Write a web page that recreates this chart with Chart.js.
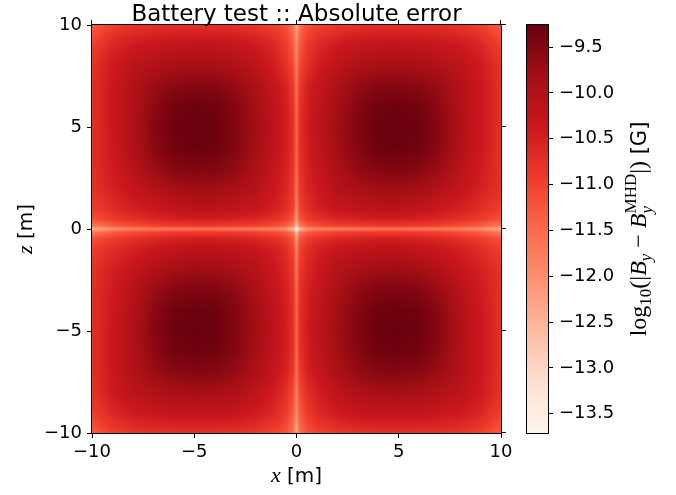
<!DOCTYPE html>
<html><head><meta charset="utf-8">
<script src="https://cdn.jsdelivr.net/npm/chart.js@4.4.1/dist/chart.umd.min.js"></script>
<style>
html,body{margin:0;padding:0;background:#fff;}
#wrap{position:relative;width:676px;height:495px;overflow:hidden;}
#wrap canvas{position:absolute;left:0;top:0;}
</style></head><body>
<div id="wrap"><canvas id="main" width="676" height="495"></canvas><canvas id="cbar" width="676" height="495"></canvas></div>
<script>
// ---- data ----
const xNodes = [-10,-9,-8,-7,-6,-5,-4,-3,-2,-1,-0.5,-0.15,0,0.15,0.5,1,2,3,4,5,6,7,8,9,10];
const zNodes = [10,9,8,7,6,5,4,3,2,1,0.5,0.15,0,-0.15,-0.5,-1,-2,-3,-4,-5,-6,-7,-8,-9,-10];
// log10 |By - By_MHD| at (zNodes[row], xNodes[col])
const errorLog10 = [
[-11.3,-10.95,-10.8,-10.75,-10.75,-10.75,-10.75,-10.78,-10.85,-11.0,-11.2,-11.6,-12.4,-11.6,-11.2,-11.0,-10.85,-10.78,-10.75,-10.75,-10.75,-10.75,-10.8,-10.95,-11.3],
[-10.95,-10.6,-10.4,-10.3,-10.22,-10.2,-10.2,-10.25,-10.4,-10.65,-10.9,-11.3,-11.95,-11.3,-10.9,-10.65,-10.4,-10.25,-10.2,-10.2,-10.22,-10.3,-10.4,-10.6,-10.95],
[-10.8,-10.4,-10.15,-9.98,-9.87,-9.83,-9.85,-9.95,-10.15,-10.5,-10.75,-11.1,-11.75,-11.1,-10.75,-10.5,-10.15,-9.95,-9.85,-9.83,-9.87,-9.98,-10.15,-10.4,-10.8],
[-10.75,-10.35,-10.0,-9.72,-9.57,-9.52,-9.53,-9.66,-9.92,-10.3,-10.55,-10.9,-11.6,-10.9,-10.55,-10.3,-9.92,-9.66,-9.53,-9.52,-9.57,-9.72,-10.0,-10.35,-10.75],
[-10.75,-10.35,-9.97,-9.6,-9.38,-9.32,-9.35,-9.52,-9.82,-10.22,-10.48,-10.8,-11.5,-10.8,-10.48,-10.22,-9.82,-9.52,-9.35,-9.32,-9.38,-9.6,-9.97,-10.35,-10.75],
[-10.75,-10.35,-9.95,-9.55,-9.33,-9.27,-9.3,-9.48,-9.78,-10.2,-10.45,-10.75,-11.45,-10.75,-10.45,-10.2,-9.78,-9.48,-9.3,-9.27,-9.33,-9.55,-9.95,-10.35,-10.75],
[-10.75,-10.37,-9.98,-9.58,-9.36,-9.3,-9.33,-9.5,-9.8,-10.22,-10.47,-10.77,-11.45,-10.77,-10.47,-10.22,-9.8,-9.5,-9.33,-9.3,-9.36,-9.58,-9.98,-10.37,-10.75],
[-10.75,-10.42,-10.08,-9.72,-9.52,-9.46,-9.48,-9.62,-9.9,-10.28,-10.52,-10.82,-11.5,-10.82,-10.52,-10.28,-9.9,-9.62,-9.48,-9.46,-9.52,-9.72,-10.08,-10.42,-10.75],
[-10.78,-10.5,-10.25,-10.0,-9.82,-9.75,-9.77,-9.87,-10.05,-10.38,-10.6,-10.9,-11.6,-10.9,-10.6,-10.38,-10.05,-9.87,-9.77,-9.75,-9.82,-10.0,-10.25,-10.5,-10.78],
[-10.95,-10.7,-10.5,-10.35,-10.2,-10.12,-10.12,-10.18,-10.28,-10.5,-10.72,-11.0,-11.8,-11.0,-10.72,-10.5,-10.28,-10.18,-10.12,-10.12,-10.2,-10.35,-10.5,-10.7,-10.95],
[-11.15,-10.9,-10.72,-10.6,-10.5,-10.45,-10.45,-10.5,-10.58,-10.75,-10.92,-11.25,-12.1,-11.25,-10.92,-10.75,-10.58,-10.5,-10.45,-10.45,-10.5,-10.6,-10.72,-10.9,-11.15],
[-11.7,-11.35,-11.15,-11.02,-10.95,-10.92,-10.92,-10.95,-11.0,-11.15,-11.35,-11.7,-12.7,-11.7,-11.35,-11.15,-11.0,-10.95,-10.92,-10.92,-10.95,-11.02,-11.15,-11.35,-11.7],
[-12.5,-12.0,-11.8,-11.7,-11.65,-11.65,-11.65,-11.7,-11.75,-11.85,-12.1,-12.7,-13.71,-12.7,-12.1,-11.85,-11.75,-11.7,-11.65,-11.65,-11.65,-11.7,-11.8,-12.0,-12.5],
[-11.7,-11.35,-11.15,-11.02,-10.95,-10.92,-10.92,-10.95,-11.0,-11.15,-11.35,-11.7,-12.7,-11.7,-11.35,-11.15,-11.0,-10.95,-10.92,-10.92,-10.95,-11.02,-11.15,-11.35,-11.7],
[-11.15,-10.9,-10.72,-10.6,-10.5,-10.45,-10.45,-10.5,-10.58,-10.75,-10.92,-11.25,-12.1,-11.25,-10.92,-10.75,-10.58,-10.5,-10.45,-10.45,-10.5,-10.6,-10.72,-10.9,-11.15],
[-10.95,-10.7,-10.5,-10.35,-10.2,-10.12,-10.12,-10.18,-10.28,-10.5,-10.72,-11.0,-11.8,-11.0,-10.72,-10.5,-10.28,-10.18,-10.12,-10.12,-10.2,-10.35,-10.5,-10.7,-10.95],
[-10.78,-10.5,-10.25,-10.0,-9.82,-9.75,-9.77,-9.87,-10.05,-10.38,-10.6,-10.9,-11.6,-10.9,-10.6,-10.38,-10.05,-9.87,-9.77,-9.75,-9.82,-10.0,-10.25,-10.5,-10.78],
[-10.75,-10.42,-10.08,-9.72,-9.52,-9.46,-9.48,-9.62,-9.9,-10.28,-10.52,-10.82,-11.5,-10.82,-10.52,-10.28,-9.9,-9.62,-9.48,-9.46,-9.52,-9.72,-10.08,-10.42,-10.75],
[-10.75,-10.37,-9.98,-9.58,-9.36,-9.3,-9.33,-9.5,-9.8,-10.22,-10.47,-10.77,-11.45,-10.77,-10.47,-10.22,-9.8,-9.5,-9.33,-9.3,-9.36,-9.58,-9.98,-10.37,-10.75],
[-10.75,-10.35,-9.95,-9.55,-9.33,-9.27,-9.3,-9.48,-9.78,-10.2,-10.45,-10.75,-11.45,-10.75,-10.45,-10.2,-9.78,-9.48,-9.3,-9.27,-9.33,-9.55,-9.95,-10.35,-10.75],
[-10.75,-10.35,-9.97,-9.6,-9.38,-9.32,-9.35,-9.52,-9.82,-10.22,-10.48,-10.8,-11.5,-10.8,-10.48,-10.22,-9.82,-9.52,-9.35,-9.32,-9.38,-9.6,-9.97,-10.35,-10.75],
[-10.75,-10.35,-10.0,-9.72,-9.57,-9.52,-9.53,-9.66,-9.92,-10.3,-10.55,-10.9,-11.6,-10.9,-10.55,-10.3,-9.92,-9.66,-9.53,-9.52,-9.57,-9.72,-10.0,-10.35,-10.75],
[-10.8,-10.4,-10.15,-9.98,-9.87,-9.83,-9.85,-9.95,-10.15,-10.5,-10.75,-11.1,-11.75,-11.1,-10.75,-10.5,-10.15,-9.95,-9.85,-9.83,-9.87,-9.98,-10.15,-10.4,-10.8],
[-10.95,-10.6,-10.4,-10.3,-10.22,-10.2,-10.2,-10.25,-10.4,-10.65,-10.9,-11.3,-11.95,-11.3,-10.9,-10.65,-10.4,-10.25,-10.2,-10.2,-10.22,-10.3,-10.4,-10.6,-10.95],
[-11.3,-10.95,-10.8,-10.75,-10.75,-10.75,-10.75,-10.78,-10.85,-11.0,-11.2,-11.6,-12.4,-11.6,-11.2,-11.0,-10.85,-10.78,-10.75,-10.75,-10.75,-10.75,-10.8,-10.95,-11.3]
];
const axisTicks = [-10,-5,0,5,10];
const colorbarTicks = [-13.5,-13.0,-12.5,-12.0,-11.5,-11.0,-10.5,-10.0,-9.5];
const colorMin = -13.71, colorMax = -9.26;
const redsStops = ['#fff5f0','#fee0d2','#fcbba1','#fc9272','#fb6a4a','#ef3b2c','#cb181d','#a50f15','#67000d'];
const titleText = 'Battery test :: Absolute error';

// ---- helpers ----
const REDS = redsStops.map(h=>[parseInt(h.slice(1,3),16),parseInt(h.slice(3,5),16),parseInt(h.slice(5,7),16)]);
function cmap(v){
  let t=(v-colorMin)/(colorMax-colorMin); t=Math.max(0,Math.min(1,t));
  const p=t*(REDS.length-1); const i=Math.min(Math.floor(p),REDS.length-2); const f=p-i;
  const a=REDS[i], b=REDS[i+1];
  return [a[0]+(b[0]-a[0])*f, a[1]+(b[1]-a[1])*f, a[2]+(b[2]-a[2])*f];
}
function locate(nodes, v){
  for(let k=0;k<nodes.length-1;k++){
    const a=nodes[k], b=nodes[k+1];
    if(v>=Math.min(a,b) && v<=Math.max(a,b)) return [k,(v-a)/(b-a)];
  }
  const asc = nodes[1]>nodes[0];
  const first = asc ? v<nodes[0] : v>nodes[0];
  return first ? [0,0] : [nodes.length-2,1];
}
const minus = s => String(s).replace('-','\u2212');
function drawRuns(ctx, runs, cx, cy, angle){
  ctx.save(); ctx.translate(cx,cy); ctx.rotate(angle);
  ctx.textBaseline='alphabetic'; ctx.textAlign='left'; ctx.fillStyle='#000';
  let total=0;
  runs.forEach(r=>{ctx.font=r.font; r.w=ctx.measureText(r.t).width; if(!r.stack) total+=r.w;});
  let xp=-total/2;
  runs.forEach(r=>{ctx.font=r.font; ctx.fillText(r.t, xp, r.dy||0); if(!r.stack) xp+=r.w;});
  ctx.restore();
}

// ---- main heatmap chart ----
const heatmapPlugin = {
  id:'heatmap',
  beforeDraw(chart){
    const {ctx, chartArea, scales:{x,y}} = chart;
    const L=Math.round(chartArea.left), T=Math.round(chartArea.top);
    const W=Math.round(chartArea.right)-L, H=Math.round(chartArea.bottom)-T;
    const off=document.createElement('canvas'); off.width=W; off.height=H;
    const octx=off.getContext('2d'); const img=octx.createImageData(W,H);
    const cols=[], rows=[];
    for(let c=0;c<W;c++) cols.push(locate(xNodes, x.getValueForPixel(L+c+0.5)));
    for(let r=0;r<H;r++) rows.push(locate(zNodes, y.getValueForPixel(T+r+0.5)));
    const M=errorLog10;
    for(let r=0;r<H;r++){
      const [j,u]=rows[r];
      for(let c=0;c<W;c++){
        const [i,t]=cols[c];
        const v=(1-u)*((1-t)*M[j][i]+t*M[j][i+1])+u*((1-t)*M[j+1][i]+t*M[j+1][i+1]);
        const col=cmap(v); const k=(r*W+c)*4;
        img.data[k]=col[0]; img.data[k+1]=col[1]; img.data[k+2]=col[2]; img.data[k+3]=255;
      }
    }
    octx.putImageData(img,0,0);
    ctx.drawImage(off,L,T);
  },
  afterDraw(chart){
    const {ctx, chartArea:{left,top,right,bottom}, scales:{x,y}} = chart;
    ctx.save();
    ctx.strokeStyle='#000'; ctx.lineWidth=1;
    ctx.strokeRect(Math.round(left)-0.5, Math.round(top)-0.5, Math.round(right)-Math.round(left)+1, Math.round(bottom)-Math.round(top)+1);
    ctx.beginPath();
    axisTicks.forEach(v=>{
      const xx=Math.round(x.getPixelForValue(v))-0.5;
      ctx.moveTo(xx, top-0.5); ctx.lineTo(xx, top-5);
      const yy=Math.round(y.getPixelForValue(v))-0.5;
      ctx.moveTo(right+0.5, yy); ctx.lineTo(right+5, yy);
    });
    ctx.stroke();
    ctx.fillStyle='#000';
    ctx.font='23px "DejaVu Sans"'; ctx.textAlign='center'; ctx.textBaseline='alphabetic';
    ctx.fillText(titleText, (left+right)/2, 21);
    drawRuns(ctx,[{t:'x',font:'italic 22px "Liberation Serif"'},{t:' [m]',font:'20px "DejaVu Sans"'}], (left+right)/2, 482, 0);
    drawRuns(ctx,[{t:'z',font:'italic 22px "Liberation Serif"'},{t:' [m]',font:'20px "DejaVu Sans"'}], 32, (top+bottom)/2, -Math.PI/2);
    ctx.restore();
  }
};

const tickFont = {family:'DejaVu Sans', size:18};
const nodePoints = [];
zNodes.forEach((z,j)=>xNodes.forEach((xv,i)=>nodePoints.push({x:xv,y:z,v:errorLog10[j][i]})));

new Chart(document.getElementById('main'), {
  type:'scatter',
  data:{datasets:[{data:nodePoints, pointRadius:0, showLine:false}]},
  options:{
    responsive:false, animation:false, devicePixelRatio:1, events:[],
    layout:{padding:{left:0, top:25, right:175, bottom:0}},
    plugins:{legend:{display:false}, tooltip:{enabled:false}, title:{display:false}},
    scales:{
      x:{type:'linear', min:-10, max:10,
         afterBuildTicks:s=>{s.ticks=axisTicks.map(v=>({value:v}));},
         afterFit:s=>{s.height=62;},
         ticks:{font:tickFont, color:'#000', padding:4, maxRotation:0, autoSkip:false, callback:v=>minus(v)},
         grid:{drawOnChartArea:false, drawTicks:true, tickLength:5, color:'#000', lineWidth:1},
         border:{display:false}},
      y:{type:'linear', min:-10, max:10,
         afterBuildTicks:s=>{s.ticks=axisTicks.map(v=>({value:v}));},
         afterFit:s=>{s.width=92;},
         ticks:{font:tickFont, color:'#000', padding:5, autoSkip:false, callback:v=>minus(v)},
         grid:{drawOnChartArea:false, drawTicks:true, tickLength:5, color:'#000', lineWidth:1},
         border:{display:false}}
    }
  },
  plugins:[heatmapPlugin]
});

// ---- colorbar chart ----
const colorbarPlugin = {
  id:'colorbar',
  beforeDraw(chart){
    const {ctx, chartArea, scales:{y}} = chart;
    const L=Math.round(chartArea.left), R=Math.round(chartArea.right);
    for(let py=Math.round(chartArea.top); py<Math.round(chartArea.bottom); py++){
      const c=cmap(y.getValueForPixel(py+0.5));
      ctx.fillStyle=`rgb(${c[0]|0},${c[1]|0},${c[2]|0})`;
      ctx.fillRect(L,py,R-L,1);
    }
  },
  afterDraw(chart){
    const {ctx, chartArea:{left,top,right,bottom}} = chart;
    ctx.save();
    ctx.strokeStyle='#000'; ctx.lineWidth=1;
    ctx.strokeRect(Math.round(left)-0.5, Math.round(top)-0.5, Math.round(right)-Math.round(left)+1, Math.round(bottom)-Math.round(top)+1);
    const f='24px "Liberation Serif"', fi='italic 24px "Liberation Serif"', fs='17px "Liberation Serif"', fsi='italic 17px "Liberation Serif"';
    drawRuns(ctx,[
      {t:'log',font:f},{t:'10',font:fs,dy:5},{t:'(|',font:f},
      {t:'B',font:fi},{t:'y',font:fsi,dy:5},{t:' \u2212 ',font:f},
      {t:'B',font:fi},{t:'y',font:fsi,dy:6,stack:true},{t:'MHD',font:fs,dy:-10},
      {t:'|)',font:f},{t:' [G]',font:'21px "DejaVu Sans"'}
    ], 646, (top+bottom)/2, -Math.PI/2);
    ctx.restore();
  }
};

new Chart(document.getElementById('cbar'), {
  type:'scatter',
  data:{datasets:[{data:[], pointRadius:0}]},
  options:{
    responsive:false, animation:false, devicePixelRatio:1, events:[],
    layout:{padding:{left:527, top:25, right:0, bottom:62}},
    plugins:{legend:{display:false}, tooltip:{enabled:false}},
    scales:{
      x:{display:false, min:0, max:1},
      y:{position:'right', min:colorMin, max:colorMax,
         afterBuildTicks:s=>{s.ticks=colorbarTicks.map(v=>({value:v}));},
         afterFit:s=>{s.width=128;},
         ticks:{font:tickFont, color:'#000', padding:6, autoSkip:false, callback:v=>minus(v.toFixed(1))},
         grid:{drawOnChartArea:false, drawTicks:true, tickLength:5, color:'#000', lineWidth:1},
         border:{display:false}}
    }
  },
  plugins:[colorbarPlugin]
});
</script>
</body></html>
